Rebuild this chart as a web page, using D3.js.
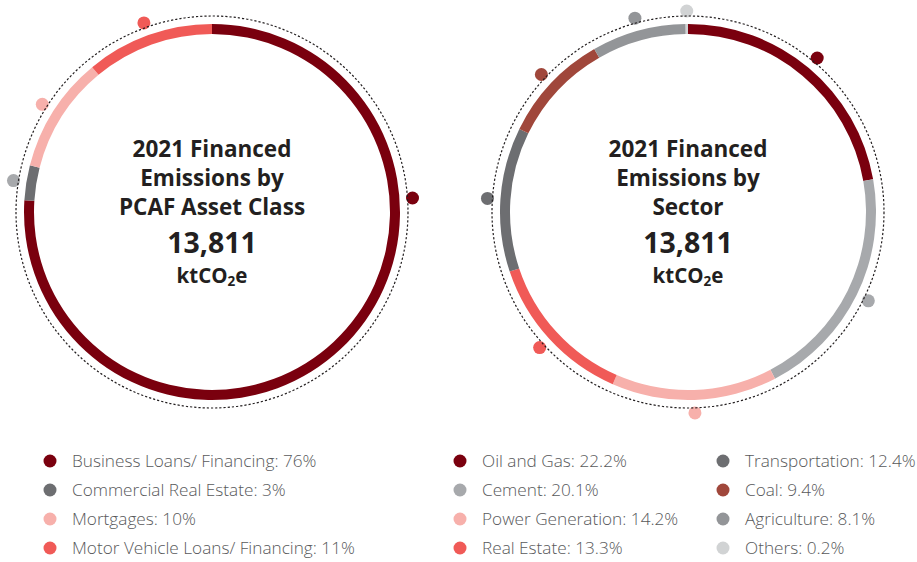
<!DOCTYPE html>
<html>
<head>
<meta charset="utf-8">
<script src="https://cdn.jsdelivr.net/npm/d3@7"></script>
<style>
  html, body { margin: 0; padding: 0; background: #ffffff; }
  svg { display: block; }
</style>
</head>
<body>
<svg id="chart" width="917" height="562"></svg>
<script>
// Financed emissions by PCAF asset class (% of total)
const assetClasses = ["Business Loans/ Financing", "Commercial Real Estate", "Mortgages", "Motor Vehicle Loans/ Financing"];
const assetShares = [76, 3, 10, 11];
const assetLabels = ["76%", "3%", "10%", "11%"];

// Financed emissions by sector (% of total)
const sectors = ["Oil and Gas", "Cement", "Power Generation", "Real Estate", "Transportation", "Coal", "Agriculture", "Others"];
const sectorShares = [22.2, 20.1, 14.2, 13.3, 12.4, 9.4, 8.1, 0.2];
const sectorLabels = ["22.2%", "20.1%", "14.2%", "13.3%", "12.4%", "9.4%", "8.1%", "0.2%"];

const totalEmissions = 13811;

// Palettes
const assetColors = ["#7a000e", "#6d6e71", "#f7b0ab", "#f05a57"];
const assetMarkerColors = ["#7a000e", "#a7a9ac", "#f7b0ab", "#f05a57"];
const sectorColors = ["#7a000e", "#a7a9ac", "#f7b0ab", "#f05a57", "#6d6e71", "#a0473b", "#939598", "#d1d3d4"];

// Marker placement: midpoint of each arc unless an angle (deg) is given
const assetMarkerDeg = [86, null, null, null];
const sectorMarkerDeg = sectors.map(() => null);

const svg = d3.select("#chart");
const ink = "#231f20";
const legendInk = "#58595b";

const ringOuter = 188, ringInner = 178, dottedR = 196, markerR = 201, markerSize = 6.5;

function donut(cx, cy, names, values, colors, markerColors, markerDeg, titleLines) {
  const g = svg.append("g").attr("transform", `translate(${cx},${cy})`);
  const pie = d3.pie().sort(null).value(d => d.v).startAngle(0).endAngle(2 * Math.PI);
  const arcs = pie(names.map((n, i) => ({ n, v: values[i], i })));
  const arc = d3.arc().innerRadius(ringInner).outerRadius(ringOuter);

  g.selectAll("path.seg").data(arcs).join("path")
    .attr("class", "seg")
    .attr("d", arc)
    .attr("fill", d => colors[d.data.i]);

  const markerAngle = d => markerDeg[d.data.i] != null
    ? markerDeg[d.data.i] * Math.PI / 180
    : (d.startAngle + d.endAngle) / 2;

  // markers just outside the ring
  g.selectAll("circle.mark").data(arcs).join("circle")
    .attr("class", "mark")
    .attr("r", markerSize)
    .attr("fill", d => markerColors[d.data.i])
    .attr("cx", d => markerR * Math.sin(markerAngle(d)))
    .attr("cy", d => -markerR * Math.cos(markerAngle(d)));

  // dotted guide circle
  g.append("circle")
    .attr("r", dottedR)
    .attr("fill", "none")
    .attr("stroke", ink)
    .attr("stroke-width", 1.2)
    .attr("stroke-dasharray", "2.2 2");

  // centre title, total and unit
  const t = g.append("g")
    .attr("font-family", "'Open Sans', sans-serif")
    .attr("font-weight", 700)
    .attr("fill", ink)
    .attr("text-anchor", "middle");
  const title = t.append("text").attr("y", -55);
  titleLines.forEach((line, i) => {
    title.append("tspan").attr("x", 0).attr("dy", i === 0 ? 0 : 29).attr("font-size", 22.5).text(line);
  });
  t.append("text").attr("y", 40.5).attr("font-size", 28.5).text(d3.format(",")(totalEmissions));
  const unit = t.append("text").attr("y", 71).attr("font-size", 20.5);
  unit.append("tspan").text("ktCO");
  unit.append("tspan").attr("dy", 3).attr("font-size", 13.5).text("2");
  unit.append("tspan").attr("dy", -3).text("e");
}

donut(212, 212, assetClasses, assetShares, assetColors, assetMarkerColors, assetMarkerDeg, ["2021 Financed", "Emissions by", "PCAF Asset Class"]);
donut(688, 212, sectors, sectorShares, sectorColors, sectorColors, sectorMarkerDeg, ["2021 Financed", "Emissions by", "Sector"]);

// legends
function legend(x, y, names, labels, colors, perColumn, colGap) {
  const g = svg.append("g").attr("transform", `translate(${x},${y})`);
  const items = g.selectAll("g.item").data(names.map((n, i) => ({ n, l: labels[i], c: colors[i], i })))
    .join("g")
    .attr("class", "item")
    .attr("transform", d => `translate(${Math.floor(d.i / perColumn) * colGap},${(d.i % perColumn) * 29})`);
  items.append("circle").attr("r", 6.5).attr("fill", d => d.c);
  items.append("text")
    .attr("x", 22)
    .attr("y", 6)
    .attr("font-family", "'Open Sans', sans-serif")
    .attr("font-weight", 300)
    .attr("font-size", 17.2)
    .attr("fill", legendInk)
    .text(d => `${d.n}: ${d.l}`);
}

legend(50, 461, assetClasses, assetLabels, assetColors, 4, 0);
legend(460, 461, sectors, sectorLabels, sectorColors, 4, 263);
</script>
</body>
</html>
